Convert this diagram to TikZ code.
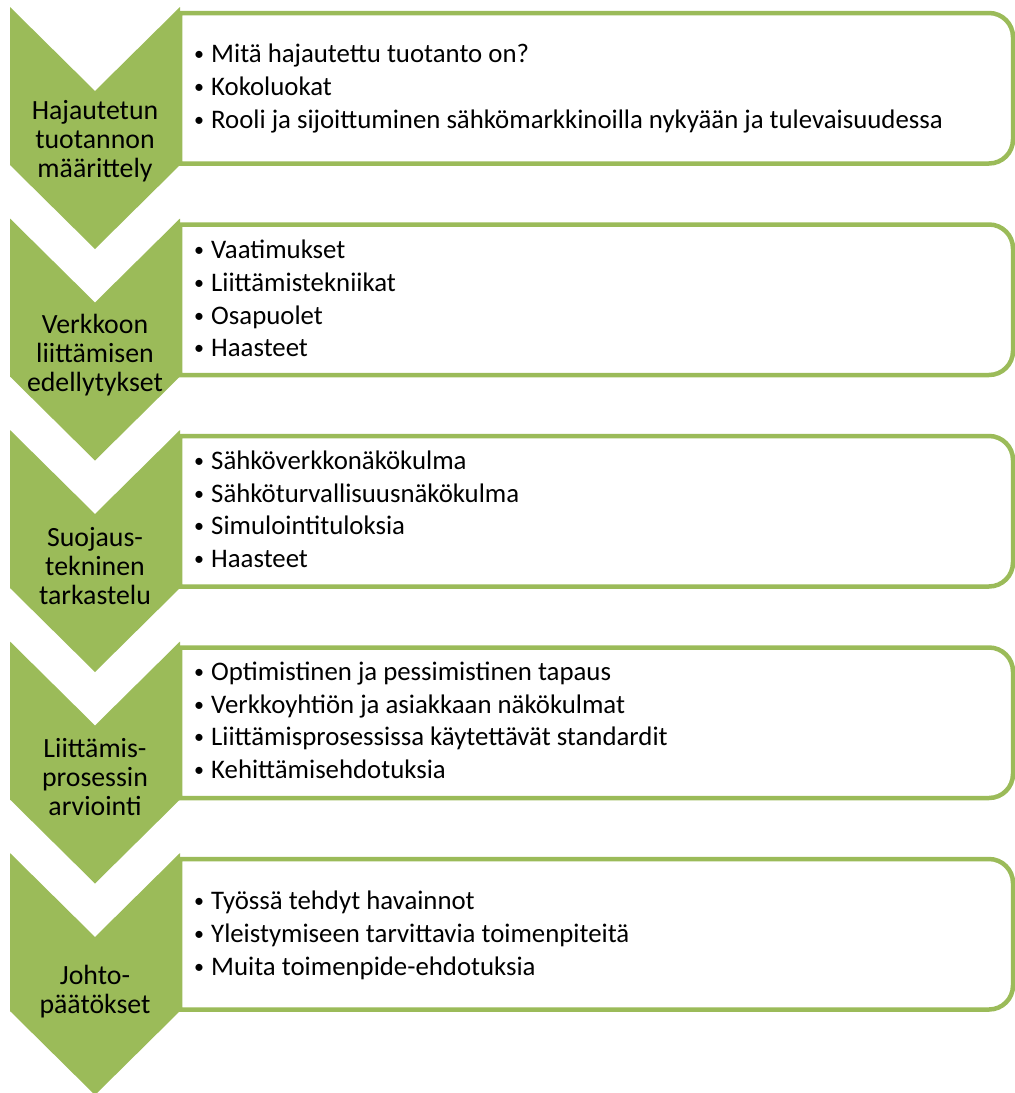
\documentclass[tikz,border=0pt]{standalone}
\usepackage{fontspec}
\setmainfont{Carlito}
\usetikzlibrary{calc,positioning}
\definecolor{leaf}{HTML}{9BBB59}
\newcommand{\itm}{\makebox[18pt][l]{\hspace{1pt}\raisebox{2pt}{\fontsize{20}{20}\selectfont\textbullet}}}
\tikzstyle{chevron}=[
  fill=leaf,
  draw=none,
]
\tikzstyle{panel}=[
  draw=leaf,
  fill=white,
  line width=4.5pt,
]
\tikzstyle{stagelabel}=[
  align=center,
  anchor=base,
  font={\fontsize{27.8}{29}\selectfont},
  inner sep=0pt,
]
\tikzstyle{itemlist}=[
  align=left,
  anchor=base west,
  font={\fontsize{26.8}{32.7}\selectfont},
  inner sep=0pt,
]
\tikzset{
  x=1pt,
  y=-1pt,
}

\begin{document}
\begin{tikzpicture}
  \useasboundingbox (0,0) rectangle (1015,1093);
  % white panels with rounded right corners
  \foreach \t in {13,224.5,436,647.5,859}
    \draw [panel] (180,\t) [rounded corners=24pt] -- (1013,\t)
      -- (1013,\t+150.5) [sharp corners] -- (180,\t+150.5) -- cycle;
  % green chevrons on the left
  \foreach \t in {7,218.5,430,641.5,853}
    \fill [chevron] (10,\t) -- (95,\t+84) -- (180,\t) -- (180,\t+158)
      -- (95,\t+242) -- (10,\t+158) -- cycle;

  % labels sit on the baseline of their last line
  \node (def) [stagelabel] at (95,177) {Hajautetun\\tuotannon\\määrittely};
  \node (conn) [stagelabel] at (95,391) {Verkkoon\\liittämisen\\edellytykset};
  \node (prot) [stagelabel] at (95,604) {Suojaus-\\tekninen\\tarkastelu};
  \node (eval) [stagelabel] at (95,815) {Liittämis-\\prosessin\\arviointi};
  \node (concl) [stagelabel] at (95,1013) {Johto-\\päätökset};

  \node (defitems) [itemlist] at (193,128) {%
    \itm Mitä hajautettu tuotanto on?\\
    \itm Kokoluokat\\
    \itm Rooli ja sijoittuminen sähkömarkkinoilla nykyään ja tulevaisuudessa};
  \node (connitems) [itemlist] at (193,356.7) {%
    \itm Vaatimukset\\
    \itm Liittämistekniikat\\
    \itm Osapuolet\\
    \itm Haasteet};
  \node (protitems) [itemlist] at (193,567.5) {%
    \itm Sähköverkkonäkökulma\\
    \itm Sähköturvallisuusnäkökulma\\
    \itm Simulointituloksia\\
    \itm Haasteet};
  \node (evalitems) [itemlist] at (193,778.5) {%
    \itm Optimistinen ja pessimistinen tapaus\\
    \itm Verkkoyhtiön ja asiakkaan näkökulmat\\
    \itm Liittämisprosessissa käytettävät standardit\\
    \itm Kehittämisehdotuksia};
  \node (conclitems) [itemlist] at (193,975) {%
    \itm Työssä tehdyt havainnot\\
    \itm Yleistymiseen tarvittavia toimenpiteitä\\
    \itm Muita toimenpide-ehdotuksia};
\end{tikzpicture}
\end{document}
